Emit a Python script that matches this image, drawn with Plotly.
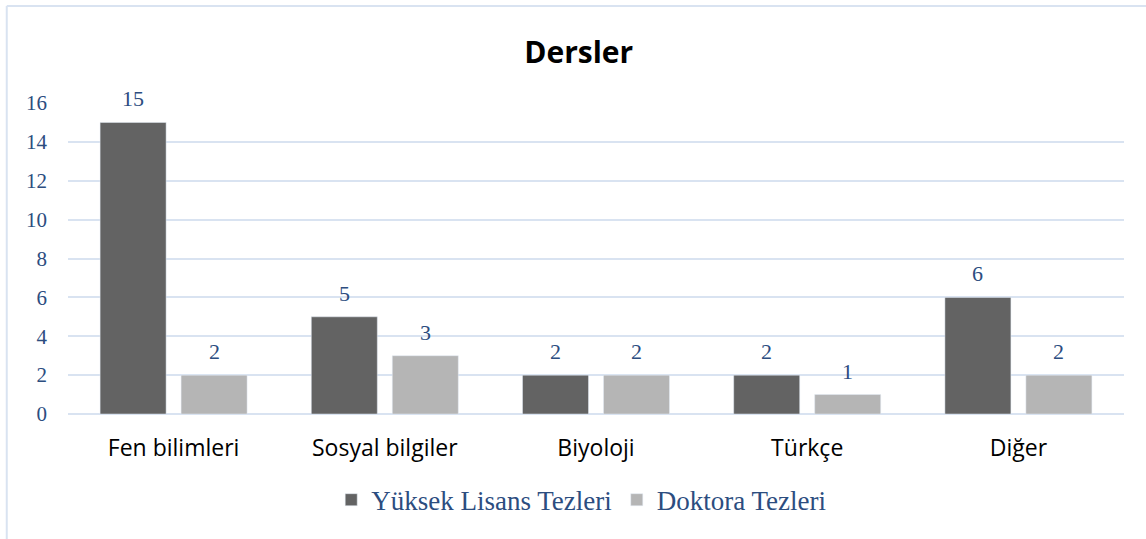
import plotly.graph_objects as go

categories = ["Fen bilimleri", "Sosyal bilgiler", "Biyoloji", "Türkçe", "Diğer"]
yuksek_lisans = [15, 5, 2, 2, 6]
doktora = [2, 3, 2, 1, 2]
y_ticks = [0, 2, 4, 6, 8, 10, 12, 14, 16]

blue = "#2c4d7f"
grid = "#d9e3f1"
serif = "Liberation Serif, Times New Roman, serif"
sans = "Open Sans, Noto Sans, sans-serif"

fig = go.Figure()
fig.add_trace(go.Bar(x=categories, y=yuksek_lisans, name="Yüksek Lisans Tezleri",
                     marker_color="#636363"))
fig.add_trace(go.Bar(x=categories, y=doktora, name="Doktora Tezleri",
                     marker_color="#b5b5b5"))

# value labels above the bars (offset to each bar in the group)
annotations = []
for series, shift in ((yuksek_lisans, -40.5), (doktora, 40.5)):
    for cat, val in zip(categories, series):
        annotations.append(dict(x=cat, y=val, xref="x", yref="y", text=str(val),
                                showarrow=False, xshift=shift, yshift=9, yanchor="bottom",
                                font=dict(family=serif, size=22, color=blue)))

fig.update_layout(
    width=1146, height=539,
    margin=dict(l=68, r=22, t=103, b=125),
    paper_bgcolor="white", plot_bgcolor="white",
    barmode="group", bargap=0.233, bargroupgap=0.185,
    title=dict(text="<b>Dersler</b>", x=0.505, xanchor="center", y=0.902, yanchor="middle",
               font=dict(family=sans, size=30, color="black")),
    legend=dict(orientation="h", x=0.486, xanchor="center", y=-0.277, yanchor="middle",
                font=dict(family=serif, size=27, color=blue), traceorder="normal"),
    xaxis=dict(showgrid=False, showline=False, ticks="", ticklabelstandoff=18,
               tickfont=dict(family=sans, size=23, color="black")),
    yaxis=dict(range=[0, 16], tickvals=y_ticks, showgrid=True, gridcolor=grid, gridwidth=2,
               zeroline=True, zerolinecolor=grid, zerolinewidth=2, ticks="",
               ticklabelstandoff=20, tickfont=dict(family=serif, size=21, color=blue)),
    annotations=annotations,
    shapes=[
        dict(type="line", xref="paper", yref="paper", x0=-0.058, x1=1.03, y0=1.312, y1=1.312,
             line=dict(color=grid, width=2)),
        dict(type="line", xref="paper", yref="paper", x0=-0.058, x1=-0.058, y0=1.312, y1=-0.41,
             line=dict(color=grid, width=2)),
    ],
)

fig.write_html("out.html", config={"displayModeBar": False},
               post_script="document.body.style.margin='0';")
